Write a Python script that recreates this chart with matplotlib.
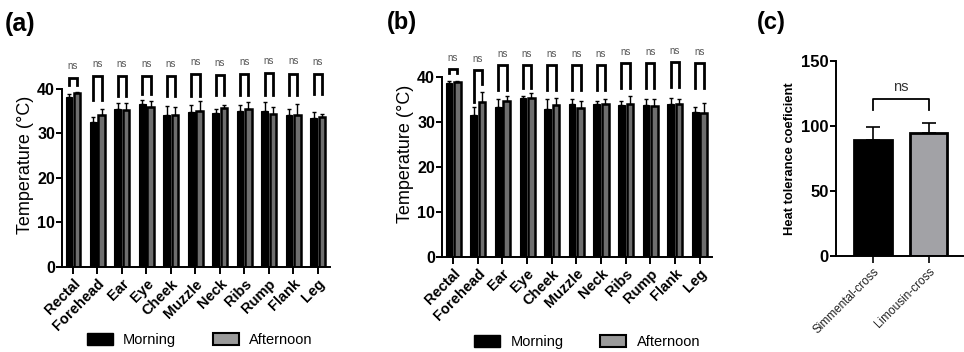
import numpy as np
import matplotlib
matplotlib.use('Agg')
import matplotlib.pyplot as plt
from matplotlib.patches import Patch

plt.rcParams['font.family'] = ['Liberation Sans', 'DejaVu Sans']

# Dane - lokalizacje pomiaru
sites = ['Rectal', 'Forehead', 'Ear', 'Eye', 'Cheek', 'Muzzle', 'Neck', 'Ribs', 'Rump', 'Flank', 'Leg']

# (a) temperatura
a_morning = [38.3, 32.6, 35.5, 36.6, 34.2, 34.9, 34.5, 35.1, 35.1, 34.2, 33.5]
a_morning_err = [0.5, 1.0, 1.3, 1.0, 2.0, 1.4, 0.9, 1.4, 2.0, 1.2, 1.3]
a_afternoon = [39.0, 34.2, 35.3, 35.9, 34.1, 35.0, 35.7, 35.4, 34.3, 34.2, 33.6]
a_afternoon_err = [0.3, 1.3, 1.5, 1.4, 1.8, 2.3, 0.8, 1.6, 1.7, 2.4, 0.7]
a_br_top = [42.4, 42.9, 42.9, 42.9, 42.9, 43.3, 43.1, 43.3, 43.5, 43.4, 43.3]
a_br_left = [41.0, 37.6, 38.5, 38.9, 38.4, 38.5, 38.6, 38.7, 38.7, 38.7, 38.9]
a_br_right = [41.0, 37.6, 38.5, 38.9, 38.4, 38.5, 38.6, 38.7, 38.7, 38.7, 38.9]

# (b) temperatura
b_morning = [38.7, 31.7, 33.4, 35.5, 33.0, 34.0, 34.0, 33.8, 33.8, 34.0, 32.3]
b_morning_err = [0.4, 1.6, 1.9, 0.3, 2.1, 1.2, 0.7, 0.9, 1.4, 1.5, 1.0]
b_afternoon = [39.0, 34.5, 34.8, 35.5, 33.8, 33.1, 34.1, 34.0, 33.6, 34.0, 32.1]
b_afternoon_err = [0.2, 2.3, 1.1, 1.1, 1.7, 1.6, 1.2, 1.8, 1.6, 1.2, 2.2]
b_br_top = [41.8, 41.6, 42.7, 42.7, 42.7, 42.7, 42.7, 43.3, 43.3, 43.4, 43.3]
b_br_left = [41.0, 34.6, 37.1, 37.6, 37.1, 37.1, 37.3, 37.6, 37.6, 37.8, 37.6]
b_br_right = [41.0, 38.6, 37.1, 37.6, 37.1, 37.1, 37.3, 37.6, 37.6, 37.8, 37.6]

# (c) wspolczynnik tolerancji ciepla
breeds = ['Simmental-cross', 'Limousin-cross']
htc = [89.2, 94.4]
htc_err = [10.0, 7.7]

fig = plt.figure(figsize=(9.64, 3.52), dpi=100)


def temp_panel(ax, morning, m_err, afternoon, a_err, br_top, br_l, br_r, gap):
    x = np.arange(len(sites))
    w = 0.27
    off = 0.17
    ax.bar(x - off, morning, w, color='black', edgecolor='black', linewidth=0.8, zorder=2)
    ax.bar(x + off, afternoon, w, color='#6e6e6e', edgecolor='black', linewidth=1.8, zorder=2)
    ax.errorbar(x - off, morning, yerr=[np.zeros(len(x)), m_err], fmt='none',
                ecolor='black', elinewidth=1, capsize=1.5, capthick=1, zorder=3)
    ax.errorbar(x + off, afternoon, yerr=[np.zeros(len(x)), a_err], fmt='none',
                ecolor='black', elinewidth=1, capsize=1.5, capthick=1, zorder=3)
    for i in range(len(x)):
        ax.plot([x[i] - off, x[i] - off, x[i] + off, x[i] + off],
                [br_l[i], br_top[i], br_top[i], br_r[i]],
                color='black', lw=2, solid_joinstyle='miter', clip_on=False)
        ax.text(x[i], br_top[i] + gap, 'ns', ha='center', va='bottom',
                fontsize=7, color='#555555')
    ax.set_ylim(0, 46)
    ax.set_xlim(-0.45, 10.5)
    ax.spines['left'].set_bounds(0, 40)
    ax.spines['top'].set_visible(False)
    ax.spines['right'].set_visible(False)
    for s in ['left', 'bottom']:
        ax.spines[s].set_linewidth(1.4)
    ax.set_yticks([0, 10, 20, 30, 40])
    ax.set_xticks(x)
    ax.set_xticklabels(sites, rotation=45, ha='right', rotation_mode='anchor',
                       fontweight='bold', fontsize=10.5)
    for lab in ax.get_yticklabels():
        lab.set_fontweight('bold')
        lab.set_fontsize(11.5)
    ax.tick_params(axis='x', length=5, width=1.4, pad=2)
    ax.tick_params(axis='y', length=4, width=1.4, pad=1)
    ax.set_ylabel('Temperature (°C)', fontsize=13, labelpad=2)


ax1 = fig.add_axes([0.0643, 0.2415, 0.278, 0.5815])
temp_panel(ax1, a_morning, a_morning_err, a_afternoon, a_afternoon_err,
           a_br_top, a_br_left, a_br_right, 1.7)

ax2 = fig.add_axes([0.4585, 0.27, 0.280, 0.5866])
temp_panel(ax2, b_morning, b_morning_err, b_afternoon, b_afternoon_err,
           b_br_top, b_br_left, b_br_right, 1.3)

# Legendy
handles = [Patch(facecolor='black', edgecolor='black', label='Morning'),
           Patch(facecolor='#9a9a9a', edgecolor='black', linewidth=1.5, label='Afternoon')]
for cx, cy in [(0.207, 0.034), (0.609, 0.028)]:
    fig.legend(handles=handles, loc='center', bbox_to_anchor=(cx, cy), ncol=2,
               frameon=False, fontsize=10.5, handlelength=1.8, handleheight=0.8,
               columnspacing=2.5, handletextpad=0.7)

# (c)
ax3 = fig.add_axes([0.867, 0.2727, 0.132, 0.554])
xc = np.arange(len(breeds))
ax3.bar(xc, htc, 0.68, color=['black', '#a2a2a6'], edgecolor='black', linewidth=2, zorder=2)
ax3.errorbar(xc, htc, yerr=[np.zeros(2), htc_err], fmt='none', ecolor='black',
             elinewidth=1.2, capsize=5, capthick=1.2, zorder=1)
ax3.plot([0, 0, 1, 1], [112, 121, 121, 112], color='black', lw=1.3)
ax3.text(0.5, 125, 'ns', ha='center', va='bottom', fontsize=10.5, color='#333333')
ax3.set_ylim(0, 150)
ax3.set_xlim(-0.667, 1.62)
ax3.set_yticks([0, 50, 100, 150])
ax3.spines['top'].set_visible(False)
ax3.spines['right'].set_visible(False)
for s in ['left', 'bottom']:
    ax3.spines[s].set_linewidth(1.4)
ax3.set_xticks(xc)
ax3.set_xticklabels(breeds, rotation=45, ha='right', rotation_mode='anchor',
                    fontsize=8.5, color='#222222')
for lab in ax3.get_yticklabels():
    lab.set_fontweight('bold')
    lab.set_fontsize(12)
ax3.tick_params(axis='x', length=5, width=1.2, pad=2)
ax3.tick_params(axis='y', length=4, width=1.4, pad=1)
ax3.set_ylabel('Heat tolerance coeficient', fontsize=9.3, fontweight='bold', labelpad=4)

# Oznaczenia paneli
fig.text(0.005, 0.965, '(a)', fontsize=18, fontweight='bold', va='top')
fig.text(0.401, 0.97, '(b)', fontsize=17, fontweight='bold', va='top')
fig.text(0.785, 0.97, '(c)', fontsize=17, fontweight='bold', va='top')

fig.savefig('out.png', dpi=100)
